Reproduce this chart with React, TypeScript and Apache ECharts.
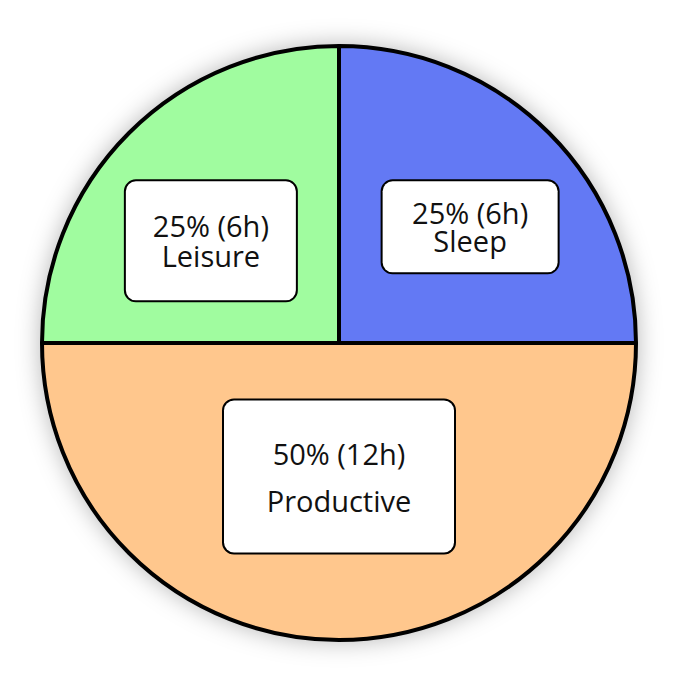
import React, { useEffect, useRef } from "react";
import * as echarts from "echarts";

const categories = ["Sleep", "Productive", "Leisure"];
const hours = [6, 12, 6];
const percents = ["25%", "50%", "25%"];
const colors = ["#6379F4", "#FFC78D", "#A0FC9F"];

const FONT = "'Open Sans', sans-serif";

export default function App() {
  const ref = useRef<HTMLDivElement>(null);
  useEffect(() => {
    const chart = echarts.init(ref.current!, null, { renderer: "svg" });
    const labelCfg = [
      { offset: [24, -9], padding: [17, 25, 18, 25], lh: 28, w: 125 },
      { offset: [0, -18], padding: [29, 39, 29, 39], lh: 47, w: 152 },
      { offset: [-21, 5], padding: [29, 23, 30, 23], lh: 30, w: 124 },
    ];
    const data = categories.map((c, i) => ({
      name: c,
      value: hours[i],
      itemStyle: { color: colors[i] },
      label: {
        offset: labelCfg[i].offset,
        padding: labelCfg[i].padding,
        lineHeight: labelCfg[i].lh,
        width: labelCfg[i].w,
      },
    }));
    chart.setOption({
      animation: false,
      backgroundColor: "#ffffff",
      series: [
        {
          type: "pie",
          z: 1,
          silent: true,
          center: [339, 343],
          radius: [0, 298],
          label: { show: false },
          labelLine: { show: false },
          itemStyle: {
            color: "#ffffff",
            shadowBlur: 24,
            shadowColor: "rgba(0,0,0,0.3)",
          },
          data: [{ value: 1, name: "bg" }],
        },
        {
          type: "pie",
          z: 2,
          center: [339, 343],
          radius: [0, 297],
          startAngle: 90,
          clockwise: true,
          itemStyle: { borderColor: "#000000", borderWidth: 4 },
          labelLine: { show: false },
          label: {
            show: true,
            position: "inside",
            formatter: (p: any) =>
              `${percents[p.dataIndex]} (${p.value}h)\n${p.name}`,
            color: "#111111",
            fontFamily: FONT,
            fontSize: 29,
            align: "center",
            backgroundColor: "#ffffff",
            borderColor: "#000000",
            borderWidth: 2,
            borderRadius: 10,
          },
          data,
        },
      ],
    });
    return () => chart.dispose();
  }, []);
  return (
    <div
      ref={ref}
      style={{ position: "absolute", left: 0, top: 0, width: 694, height: 694 }}
    />
  );
}
